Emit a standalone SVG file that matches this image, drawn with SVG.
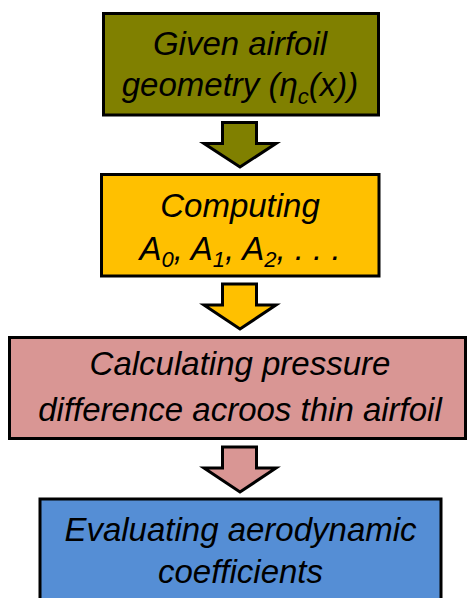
<svg xmlns="http://www.w3.org/2000/svg" width="467" height="598" viewBox="0 0 467 598">
<style>
.box{stroke:#000;stroke-width:3}
.arr{stroke:#000;stroke-width:3;stroke-linejoin:miter}
.t{font-family:"Liberation Sans",Arial,sans-serif;font-style:italic;font-size:33px;fill:#000;text-anchor:middle}
.s{font-size:22px}
</style>
<rect width="467" height="598" fill="#fff"/>
<g id="connectors">
<polygon class="arr" fill="#808000" points="222.5,122.5 256.5,122.5 256.5,143.5 276,143.5 240,167 204,143.5 222.5,143.5"/>
<polygon class="arr" fill="#FFC000" points="222.5,284 256.5,284 256.5,305 276,305 240,329 204,305 222.5,305"/>
<polygon class="arr" fill="#D99694" points="222.5,447 256.5,447 256.5,468 276,468 240,492 204,468 222.5,468"/>
</g>
<g id="node1">
<rect class="box" fill="#808000" x="103.5" y="13.5" width="275" height="101.5"/>
<text class="t" x="240" y="55">Given airfoil</text>
<text class="t" x="240" y="96">geometry (η<tspan class="s" dy="8">c</tspan><tspan dy="-8">(x))</tspan></text>
</g>
<g id="node2">
<rect class="box" fill="#FFC000" x="101.5" y="174.5" width="277.5" height="101.5"/>
<text class="t" x="240" y="217">Computing</text>
<text class="t" x="240" y="260">A<tspan class="s" dy="7">0</tspan><tspan dy="-7">, A</tspan><tspan class="s" dy="7">1</tspan><tspan dy="-7">, A</tspan><tspan class="s" dy="7">2</tspan><tspan dy="-7">, . . .</tspan></text>
</g>
<g id="node3">
<rect class="box" fill="#D99694" x="9.5" y="337.5" width="456" height="101"/>
<text class="t" x="240" y="375">Calculating pressure</text>
<text class="t" x="240" y="421">difference acroos thin airfoil</text>
</g>
<g id="node4">
<rect class="box" fill="#558ED5" x="40" y="499" width="401" height="110"/>
<text class="t" x="240.5" y="541">Evaluating aerodynamic</text>
<text class="t" x="240.5" y="583">coefficients</text>
</g>
</svg>
